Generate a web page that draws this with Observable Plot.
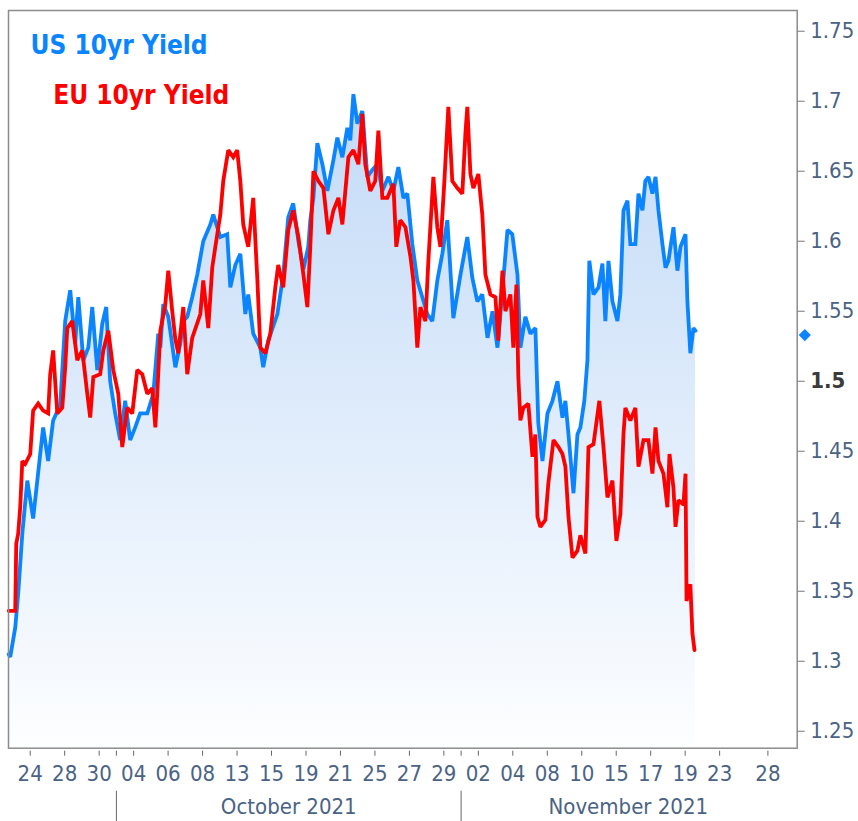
<!DOCTYPE html>
<html><head><meta charset="utf-8">
<script src="https://cdn.jsdelivr.net/npm/d3@7"></script>
<script src="https://cdn.jsdelivr.net/npm/@observablehq/plot@0.6"></script>
<style>html,body{margin:0;padding:0;background:#fff;}</style>
</head><body><div id="chart"></div>
<script>
// [trading-day offset from 24 Sep 2021, yield %]
const usSeries = [[-1.25,1.305],[-1.16,1.303],[-0.87,1.324],[-0.70,1.348],[-0.46,1.391],[-0.17,1.429],[0.17,1.402],[0.58,1.448],[0.75,1.467],[1.04,1.443],[1.33,1.472],[1.74,1.483],[2.03,1.543],[2.32,1.565],[2.61,1.527],[2.79,1.560],[3.08,1.515],[3.37,1.524],[3.60,1.553],[3.89,1.508],[4.18,1.541],[4.41,1.553],[4.64,1.500],[4.93,1.477],[5.22,1.458],[5.51,1.486],[5.80,1.458],[6.09,1.467],[6.38,1.477],[6.79,1.477],[7.14,1.491],[7.43,1.534],[7.55,1.524],[7.72,1.555],[8.01,1.546],[8.42,1.510],[8.71,1.527],[8.88,1.543],[9.11,1.546],[9.40,1.560],[9.69,1.576],[10.04,1.600],[10.45,1.612],[10.62,1.619],[11.03,1.603],[11.43,1.605],[11.61,1.567],[11.90,1.583],[12.19,1.591],[12.48,1.548],[12.65,1.562],[12.94,1.534],[13.35,1.524],[13.52,1.510],[13.81,1.529],[14.34,1.548],[14.68,1.576],[14.97,1.617],[15.26,1.627],[15.56,1.600],[15.85,1.580],[16.13,1.596],[16.25,1.615],[16.43,1.631],[16.66,1.670],[16.95,1.655],[17.24,1.636],[17.59,1.658],[17.82,1.674],[18.11,1.660],[18.40,1.681],[18.57,1.672],[18.75,1.705],[18.98,1.684],[19.27,1.693],[19.56,1.646],[19.85,1.651],[20.14,1.655],[20.43,1.636],[20.78,1.646],[21.07,1.636],[21.36,1.653],[21.65,1.631],[21.88,1.634],[22.17,1.598],[22.46,1.572],[22.75,1.560],[23.04,1.548],[23.33,1.543],[23.62,1.572],[23.91,1.591],[24.20,1.615],[24.55,1.545],[24.96,1.576],[25.36,1.603],[25.65,1.574],[25.94,1.557],[26.23,1.562],[26.53,1.531],[26.82,1.550],[27.11,1.524],[27.40,1.565],[27.69,1.608],[27.97,1.605],[28.27,1.576],[28.44,1.524],[28.73,1.546],[29.02,1.534],[29.31,1.538],[29.48,1.470],[29.72,1.443],[30.01,1.477],[30.30,1.486],[30.59,1.500],[30.88,1.474],[31.05,1.486],[31.23,1.462],[31.52,1.420],[31.75,1.462],[31.92,1.467],[32.15,1.486],[32.33,1.515],[32.44,1.586],[32.68,1.562],[32.97,1.567],[33.20,1.584],[33.37,1.543],[33.55,1.586],[33.78,1.557],[34.07,1.543],[34.24,1.562],[34.42,1.622],[34.65,1.629],[34.82,1.598],[35.11,1.598],[35.29,1.634],[35.52,1.622],[35.69,1.643],[35.87,1.646],[36.10,1.634],[36.28,1.646],[36.45,1.622],[36.68,1.598],[36.86,1.581],[37.03,1.586],[37.32,1.610],[37.55,1.579],[37.73,1.596],[38.02,1.605],[38.13,1.557],[38.30,1.520],[38.48,1.538],[38.60,1.536]];

const euSeries = [[-1.25,1.336],[-0.87,1.336],[-0.81,1.384],[-0.70,1.391],[-0.58,1.410],[-0.46,1.443],[-0.29,1.441],[0,1.448],[0.17,1.479],[0.46,1.484],[0.75,1.479],[1.04,1.477],[1.16,1.505],[1.33,1.522],[1.57,1.477],[1.86,1.481],[2.03,1.510],[2.15,1.538],[2.44,1.543],[2.73,1.515],[3.02,1.522],[3.31,1.491],[3.48,1.474],[3.66,1.503],[4.06,1.505],[4.24,1.522],[4.53,1.536],[4.82,1.508],[5.11,1.491],[5.34,1.453],[5.63,1.481],[5.92,1.477],[6.21,1.508],[6.50,1.505],[6.79,1.491],[7.08,1.495],[7.26,1.467],[7.37,1.491],[7.55,1.536],[7.84,1.555],[8.01,1.579],[8.24,1.550],[8.42,1.530],[8.59,1.520],[8.88,1.553],[9.11,1.505],[9.40,1.531],[9.87,1.548],[10.04,1.572],[10.33,1.538],[10.56,1.581],[10.74,1.596],[11.03,1.619],[11.20,1.643],[11.49,1.665],[11.78,1.660],[12.01,1.665],[12.19,1.643],[12.36,1.612],[12.65,1.596],[12.94,1.631],[13.18,1.572],[13.35,1.524],[13.64,1.520],[13.93,1.534],[14.22,1.567],[14.39,1.583],[14.68,1.567],[14.97,1.608],[15.26,1.622],[15.56,1.603],[15.85,1.576],[16.08,1.553],[16.25,1.596],[16.43,1.650],[16.72,1.643],[17.01,1.638],[17.30,1.605],[17.59,1.622],[17.88,1.631],[18.11,1.612],[18.46,1.660],[18.75,1.665],[19.04,1.655],[19.27,1.691],[19.44,1.655],[19.73,1.636],[20.02,1.643],[20.20,1.679],[20.43,1.631],[20.72,1.631],[21.07,1.641],[21.24,1.596],[21.47,1.615],[21.77,1.610],[22.06,1.589],[22.23,1.572],[22.46,1.524],[22.64,1.553],[22.93,1.543],[23.10,1.586],[23.39,1.646],[23.62,1.610],[23.80,1.596],[24.03,1.643],[24.26,1.696],[24.49,1.643],[24.78,1.638],[25.07,1.634],[25.25,1.677],[25.36,1.696],[25.54,1.648],[25.71,1.638],[26.00,1.648],[26.23,1.619],[26.41,1.576],[26.70,1.562],[26.99,1.560],[27.16,1.529],[27.40,1.579],[27.57,1.550],[27.86,1.562],[28.03,1.524],[28.21,1.569],[28.32,1.503],[28.44,1.472],[28.61,1.481],[28.90,1.484],[29.14,1.446],[29.31,1.462],[29.43,1.403],[29.60,1.396],[29.89,1.401],[30.06,1.427],[30.36,1.458],[30.65,1.453],[30.88,1.448],[31.05,1.439],[31.23,1.403],[31.46,1.374],[31.75,1.379],[31.92,1.390],[32.21,1.377],[32.39,1.453],[32.68,1.455],[33.02,1.486],[33.26,1.453],[33.49,1.417],[33.78,1.429],[34.01,1.386],[34.24,1.405],[34.42,1.462],[34.53,1.481],[34.82,1.472],[35.11,1.481],[35.29,1.439],[35.58,1.458],[35.87,1.458],[36.10,1.434],[36.28,1.467],[36.45,1.443],[36.74,1.434],[36.97,1.410],[37.09,1.448],[37.32,1.424],[37.44,1.396],[37.61,1.415],[37.90,1.412],[38.02,1.434],[38.08,1.343],[38.30,1.355],[38.42,1.320],[38.54,1.308]];

const xTickDays   = [0,2,4,5,6,8,10,12,14,16,18,20,22,24,25,26,28,30,32,34,36,38,40,42.8];
const xTickLabels = ["24","28","30","","04","06","08","13","15","19","21","25","27","29","","02","04","08","10","15","17","19","23","28"];
const monthBoundaryDays = [5, 25];
const monthLabelDays = [15, 34.7];
const monthLabels = ["October 2021", "November 2021"];
const yTicks = [1.25,1.3,1.35,1.4,1.45,1.5,1.55,1.6,1.65,1.7,1.75];
const yTickLabels = ["1.25","1.3","1.35","1.4","1.45","1.5","1.55","1.6","1.65","1.7","1.75"];
const seriesNames = ["US 10yr Yield", "EU 10yr Yield"];
const lastUS = 1.533;
const xDomain = [-1.26, 44.5];
const yDomain = [1.2379, 1.7648];

const us = usSeries.map(([day, value]) => ({day, value}));
const eu = euSeries.map(([day, value]) => ({day, value}));
const look = (ticks, labels) => d => { const i = ticks.findIndex(t => Math.abs(t - d) < 1e-9); return i < 0 ? "" : labels[i]; };

const blue = "#0a84ff", red = "#ff0000";
const axisColor = "#4a6384";
const narrow = "'Liberation Sans Narrow', 'DejaVu Sans Condensed', sans-serif";
const cond = "'DejaVu Sans Condensed', 'DejaVu Sans', sans-serif";

const chart = Plot.plot({
  width: 858, height: 821,
  marginLeft: 8, marginTop: 10, marginRight: 61.3, marginBottom: 73.3,
  x: {domain: xDomain, label: null},
  y: {domain: yDomain, label: null},
  style: {background: "white", overflow: "visible"},
  marks: [
    Plot.areaY(us, {x: "day", y1: () => yDomain[0], y2: "value", fill: "url(#usGrad)"}),
    Plot.line(us, {x: "day", y: "value", stroke: blue, strokeWidth: 3.8, strokeLinejoin: "miter", strokeMiterlimit: 2}),
    Plot.line(eu, {x: "day", y: "value", stroke: red, strokeWidth: 3.8, strokeLinejoin: "miter", strokeMiterlimit: 2}),
    Plot.frame({stroke: "#8c8c8c", strokeWidth: 1.5}),
    Plot.axisY({anchor: "right", ticks: yTicks, tickFormat: look(yTicks, yTickLabels), tickSize: 7, tickPadding: 6,
      fontSize: 22, fontFamily: cond, fill: axisColor, stroke: "#777"}),
    Plot.axisX({anchor: "bottom", ticks: xTickDays, tickFormat: look(xTickDays, xTickLabels), tickSize: 5, tickPadding: 9, dy: 3,
      fontSize: 22, fontFamily: narrow, fill: axisColor, stroke: "#666"}),
    Plot.axisX({anchor: "bottom", ticks: monthBoundaryDays, tickFormat: () => "", tickSize: 31, dy: 43, stroke: "#666"}),
    Plot.axisX({anchor: "bottom", ticks: monthLabelDays, tickFormat: look(monthLabelDays, monthLabels), tickSize: 0, tickPadding: 50,
      fontSize: 22, fontFamily: narrow, fill: axisColor}),
    Plot.dot([lastUS], {y: d => d, frameAnchor: "right", dx: 7.6, symbol: "diamond2", r: 5.5, fill: blue, stroke: null}),
    Plot.text([seriesNames[0]], {text: d => d, frameAnchor: "top-left", dx: 22, dy: 25, textAnchor: "start", lineAnchor: "top",
      fill: blue, fontSize: 26, fontWeight: "bold", fontFamily: cond}),
    Plot.text([seriesNames[1]], {text: d => d, frameAnchor: "top-left", dx: 44.7, dy: 75, textAnchor: "start", lineAnchor: "top",
      fill: red, fontSize: 26, fontWeight: "bold", fontFamily: cond})
  ]
});

const sel = d3.select(chart);
const grad = sel.insert("defs", ":first-child").append("linearGradient")
  .attr("id", "usGrad").attr("x1", 0).attr("x2", 0).attr("y1", 0).attr("y2", 1);
grad.append("stop").attr("offset", "0%").attr("stop-color", "#c2daf7");
grad.append("stop").attr("offset", "100%").attr("stop-color", "#fdfeff");
sel.selectAll("text").filter(function() { return this.textContent === "1.5"; })
  .attr("font-weight", "bold").attr("fill", "#3b3b3b");
document.getElementById("chart").append(chart);
</script>
</body></html>
